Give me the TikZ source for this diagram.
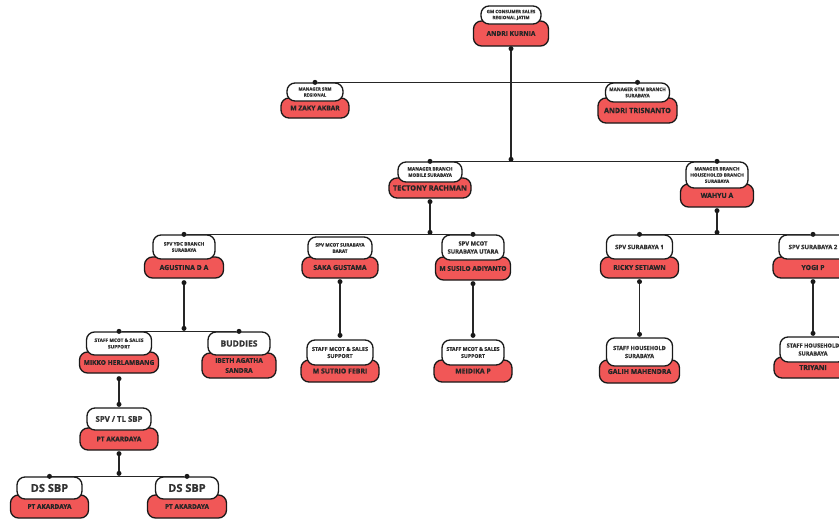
\documentclass[tikz,border=0pt]{standalone}
\usepackage{fontspec}
\setmainfont{Open Sans}[BoldFeatures={FakeBold=0.8}]
\definecolor{cardred}{RGB}{241,87,87}
\begin{document}
\begin{tikzpicture}[x=1pt,y=-1pt,
    namebox/.style={draw=black!90,line width=1.3pt,fill=cardred,rounded corners=8pt,inner sep=0pt,align=center,text=black!85,font=\bfseries\fontsize{6.9}{10}\selectfont},
    titlebox/.style={draw=black!90,line width=1.3pt,fill=white,rounded corners=8pt,inner sep=0pt,align=center,text=black!80,font=\bfseries\fontsize{4.7}{6.2}\selectfont},
    dot/.style={circle,fill=black!90,inner sep=0pt,minimum size=5pt},
    link/.style={line width=1.7pt,draw=black!85}]
    \useasboundingbox (0,0) rectangle (839,520);
    \node[namebox,minimum width=75pt,minimum height=25pt,font=\bfseries\fontsize{6.6}{8}\selectfont] (gm) at (511,33.5){ANDRI KURNIA};
    \node[titlebox,minimum width=60pt,minimum height=18pt,font=\bfseries\fontsize{4.5}{6}\selectfont] (gmT) at (511,15){GM CONSUMER SALES\\REGIONAL JATIM};
    \node[namebox,minimum width=68pt,minimum height=20pt,font=\bfseries\fontsize{6.7}{8}\selectfont] (srm) at (315,108){M ZAKY AKBAR};
    \node[titlebox,minimum width=56pt,minimum height=18pt,font=\bfseries\fontsize{4.4}{6}\selectfont] (srmT) at (315,92){MANAGER SRM\\REGIONAL};
    \node[namebox,minimum width=79pt,minimum height=25pt,font=\bfseries\fontsize{7.2}{8}\selectfont] (gtm) at (637.5,110.5){ANDRI TRISNANTO};
    \node[titlebox,minimum width=64pt,minimum height=19pt] (gtmT) at (637.5,92.5){MANAGER GTM BRANCH\\SURABAYA};
    \node[namebox,minimum width=82pt,minimum height=20pt,font=\bfseries\fontsize{7.4}{8}\selectfont] (tec) at (430,188){TECTONY RACHMAN};
    \node[titlebox,minimum width=64pt,minimum height=20pt] (tecT) at (430,172){MANAGER BRANCH\\MOBILE SURABAYA};
    \node[namebox,minimum width=73pt,minimum height=23pt] (wah) at (717,195.5){WAHYU A};
    \node[titlebox,minimum width=62pt,minimum height=26pt] (wahT) at (717,175){MANAGER BRANCH\\HOUSEHOLED BRANCH\\SURABAYA};
    \node[namebox,minimum width=79pt,minimum height=21pt] (agus) at (184,267.5){AGUSTINA D A};
    \node[titlebox,minimum width=62pt,minimum height=24pt] (agusT) at (184,247){SPV YDC BRANCH\\SURABAYA};
    \node[namebox,minimum width=76pt,minimum height=21pt] (saka) at (340,267.5){SAKA GUSTAMA};
    \node[titlebox,minimum width=64pt,minimum height=22pt] (sakaT) at (340,248){SPV MCOT SURABAYA\\BARAT};
    \node[namebox,minimum width=75pt,minimum height=23pt,font=\bfseries\fontsize{6.6}{8}\selectfont] (sus) at (473,268.5){M SUSILO ADIYANTO};
    \node[titlebox,minimum width=62pt,minimum height=25pt,font=\bfseries\fontsize{5.8}{8}\selectfont] (susT) at (473,247.5){SPV MCOT\\SURABAYA UTARA};
    \node[namebox,minimum width=78pt,minimum height=21pt] (ricky) at (639.5,267.5){RICKY SETIAWN};
    \node[titlebox,minimum width=66pt,minimum height=24pt,font=\bfseries\fontsize{6}{8}\selectfont] (rickyT) at (639.5,247){SPV SURABAYA 1};
    \node[namebox,minimum width=80pt,minimum height=21pt] (yogi) at (813,267.5){YOGI P};
    \node[titlebox,minimum width=68pt,minimum height=24pt,font=\bfseries\fontsize{6}{8}\selectfont] (yogiT) at (813,247){SPV SURABAYA 2};
    \node[namebox,minimum width=79pt,minimum height=21pt,font=\bfseries\fontsize{6.6}{8}\selectfont] (mik) at (119,362.5){MIKKO HERLAMBANG};
    \node[titlebox,minimum width=65pt,minimum height=23pt,font=\bfseries\fontsize{4.8}{6.5}\selectfont] (mikT) at (119,343.5){STAFF MCOT \& SALES\\SUPPORT};
    \node[namebox,minimum width=74pt,minimum height=25pt,font=\bfseries\fontsize{6.6}{10}\selectfont] (bud) at (239,365.5){IBETH AGATHA\\SANDRA};
    \node[titlebox,minimum width=62pt,minimum height=23pt,font=\bfseries\fontsize{8.5}{10}\selectfont] (budT) at (239,343.5){BUDDIES};
    \node[namebox,minimum width=78pt,minimum height=22pt] (sut) at (340,371){M SUTRIO FEBRI};
    \node[titlebox,minimum width=66pt,minimum height=25pt,font=\bfseries\fontsize{5.5}{7}\selectfont] (sutT) at (340,352.5){STAFF MCOT \& SALES\\SUPPORT};
    \node[namebox,minimum width=78pt,minimum height=22pt] (mei) at (473,371){MEIDIKA P};
    \node[titlebox,minimum width=62pt,minimum height=25pt,font=\bfseries\fontsize{5.2}{7}\selectfont] (meiT) at (473,352.5){STAFF MCOT \& SALES\\SUPPORT};
    \node[namebox,minimum width=80pt,minimum height=23pt] (gal) at (639.5,371.5){GALIH MAHENDRA};
    \node[titlebox,minimum width=66pt,minimum height=28pt,font=\bfseries\fontsize{5.6}{8}\selectfont] (galT) at (639.5,352){STAFF HOUSEHOLD\\SURABAYA};
    \node[namebox,minimum width=78pt,minimum height=21pt] (tri) at (813,367.5){TRIYANI};
    \node[titlebox,minimum width=66pt,minimum height=25pt,font=\bfseries\fontsize{5.6}{8}\selectfont] (triT) at (813,349.5){STAFF HOUSEHOLD\\SURABAYA};
    \node[namebox,minimum width=78pt,minimum height=22pt,font=\bfseries\fontsize{6.6}{8}\selectfont] (spv) at (119,439){PT AKARDAYA};
    \node[titlebox,minimum width=64pt,minimum height=22pt,font=\bfseries\fontsize{7.8}{9}\selectfont] (spvT) at (119,419){SPV / TL SBP};
    \node[namebox,minimum width=78pt,minimum height=23pt,font=\bfseries\fontsize{6.5}{8}\selectfont] (dsa) at (49.5,506.5){PT AKARDAYA};
    \node[titlebox,minimum width=65pt,minimum height=22pt,font=\bfseries\fontsize{11}{12}\selectfont] (dsaT) at (49.5,488){DS SBP};
    \node[namebox,minimum width=79pt,minimum height=23pt,font=\bfseries\fontsize{6.5}{8}\selectfont] (dsb) at (187,506.5){PT AKARDAYA};
    \node[titlebox,minimum width=63pt,minimum height=22pt,font=\bfseries\fontsize{11}{12}\selectfont] (dsbT) at (187,488){DS SBP};
    \node[dot] (gmB) at ([yshift=-2pt]gm.south){};
    \node[dot] (srmD) at (srmT.north){};
    \node[dot] (gtmD) at (gtmT.north){};
    \node[dot] (tecD) at (tecT.north){};
    \node[dot] (wahD) at (wahT.north){};
    \node[dot] (gmJ) at ([yshift=2pt]gmB |- tecD){};
    \draw[link] (srmD) -- (gtmD);
    \draw[link] (tecD) -- (wahD);
    \draw[link] (gmB) -- (gmJ);
    \node[dot] (tecB) at ([yshift=-3pt]tec.south){};
    \node[dot] (agusD) at (agusT.north){};
    \node[dot] (susD) at (susT.north){};
    \node[dot] (tecJ) at ([yshift=2pt]tecB |- agusD){};
    \draw[link] (agusD) -- (susD);
    \draw[link] (tecB) -- (tecJ);
    \node[dot] (wahB) at ([yshift=-3pt]wah.south){};
    \node[dot] (rickyD) at (rickyT.north){};
    \node[dot] (yogiD) at (yogiT.north){};
    \node[dot] (wahJ) at ([yshift=2pt]wahB |- rickyD){};
    \draw[link] (rickyD) -- (yogiD);
    \draw[link] (wahB) -- (wahJ);
    \node[dot] (agusB) at ([yshift=-4pt]agus.south){};
    \node[dot] (mikD) at (mikT.north){};
    \node[dot] (budD) at (budT.north){};
    \node[dot] (agusJ) at ([yshift=3pt]agusB |- mikD){};
    \draw[link] (mikD) -- (budD);
    \draw[link] (agusB) -- (agusJ);
    \node[dot] (sakaB) at ([yshift=-3pt]saka.south){};
    \node[dot] (sutD) at ([yshift=4pt]sutT.north){};
    \draw[link] (sakaB) -- (sutD);
    \node[dot] (susB) at ([yshift=-3pt]sus.south){};
    \node[dot] (meiD) at ([yshift=4pt]meiT.north){};
    \draw[link] (susB) -- (meiD);
    \node[dot] (rickyB) at ([yshift=-3pt]ricky.south){};
    \node[dot] (galD) at ([yshift=3pt]galT.north){};
    \draw[link] (rickyB) -- (galD);
    \node[dot] (yogiB) at ([yshift=-3pt]yogi.south){};
    \node[dot] (triD) at ([yshift=3pt]triT.north){};
    \draw[link] (yogiB) -- (triD);
    \node[dot] (mikB) at ([yshift=-5pt]mik.south){};
    \node[dot] (spvD) at ([yshift=3pt]spvT.north){};
    \draw[link] (mikB) -- (spvD);
    \node[dot] (spvB) at ([yshift=-3pt]spv.south){};
    \node[dot] (dsaD) at (dsaT.north){};
    \node[dot] (dsbD) at (dsbT.north){};
    \node[dot] (spvJ) at ([yshift=3pt]spvB |- dsaD){};
    \draw[link] (dsaD) -- (dsbD);
    \draw[link] (spvB) -- (spvJ);
\end{tikzpicture}
\end{document}
